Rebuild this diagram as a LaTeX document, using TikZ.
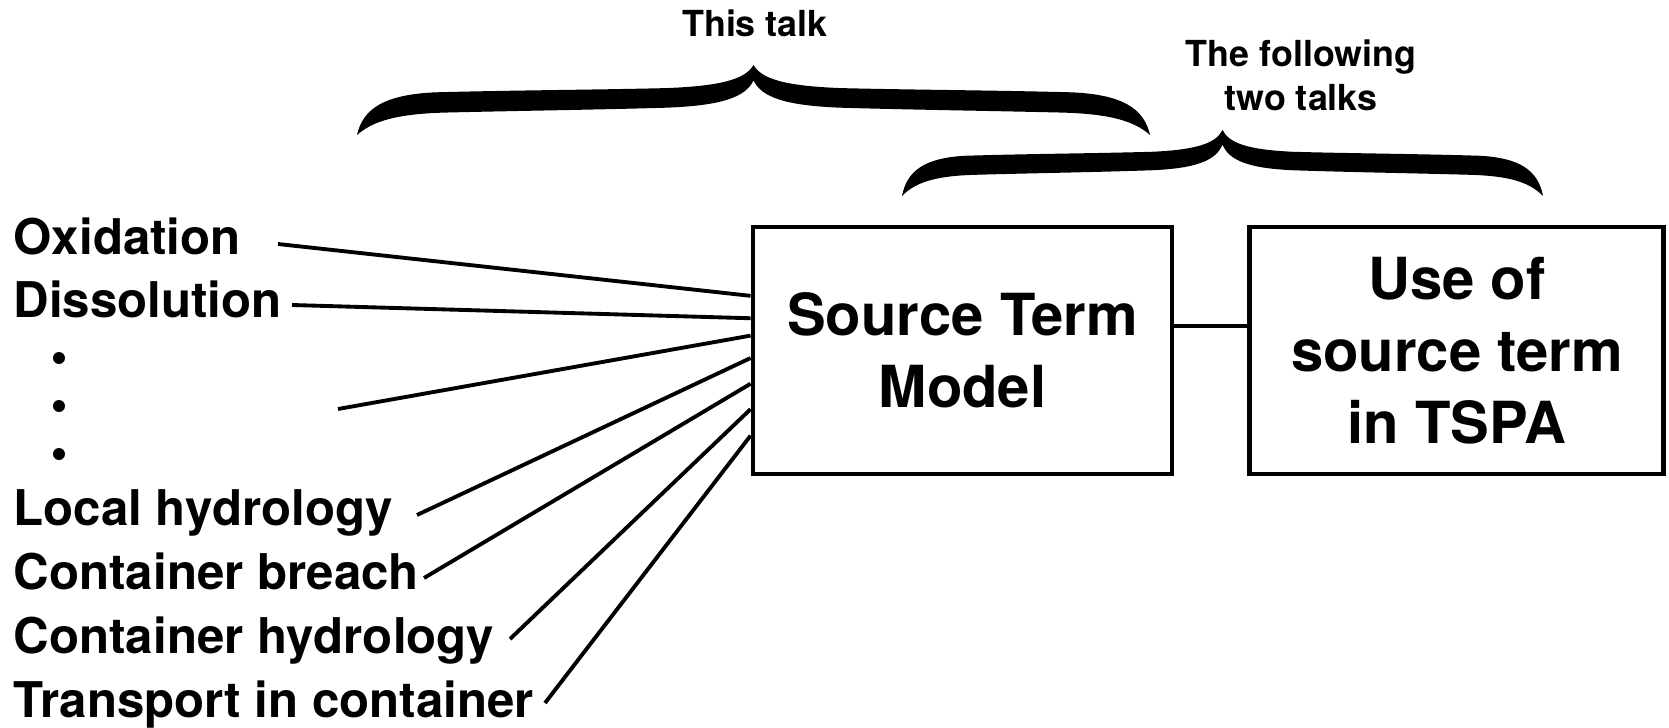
\documentclass[tikz,border=0pt]{standalone}
\usepackage{fontspec}
\setmainfont{TeX Gyre Heros}
\usetikzlibrary{calc,positioning}
% curly brace outline in unit coordinates: x from -1 to 1, y from 0 to 1
\def\braceshape{(-1,0) .. controls (-0.985,0.38) and (-0.93,0.58) .. (-0.8,0.61)
  .. controls (-0.6,0.64) and (-0.4,0.645) .. (-0.22,0.67)
  .. controls (-0.08,0.7) and (-0.02,0.8) .. (0,1)
  .. controls (0.02,0.8) and (0.08,0.7) .. (0.22,0.67)
  .. controls (0.4,0.645) and (0.6,0.64) .. (0.8,0.61)
  .. controls (0.93,0.58) and (0.985,0.38) .. (1,0)
  .. controls (0.96,0.2) and (0.9,0.3) .. (0.78,0.32)
  .. controls (0.6,0.345) and (0.4,0.36) .. (0.22,0.39)
  .. controls (0.08,0.42) and (0.02,0.54) .. (0,0.78)
  .. controls (-0.02,0.54) and (-0.08,0.42) .. (-0.22,0.39)
  .. controls (-0.4,0.36) and (-0.6,0.345) .. (-0.78,0.32)
  .. controls (-0.9,0.3) and (-0.96,0.2) .. (-1,0) -- cycle}
\def\talkbrace(#1,#2)(#3:#4){\fill[shift={(#1,#2)},xscale=#3,yscale=#4] \braceshape;}

\begin{document}
\begin{tikzpicture}[
    box/.style={draw, line width=1.4pt, minimum height=2.47cm, align=center,
      font=\fontsize{16.5}{20.5}\selectfont\bfseries},
    item/.style={anchor=base west, inner sep=0pt, font=\fontsize{14}{16}\selectfont\bfseries},
    talk/.style={anchor=base, inner sep=0pt, align=center, font=\fontsize{10.2}{12.8}\selectfont\bfseries},
    leader/.style={line width=1.1pt}
  ]
  \useasboundingbox (0,0) rectangle (16.69,7.27);

  %%%%% boxes %%%%%
  \node[box, minimum width=4.19cm] (src) at (9.625,3.765) {Source Term\\Model};
  \node[box, minimum width=4.14cm, right=0.73cm of src] (use) {Use of\\source term\\in TSPA};
  \coordinate (link) at (12,4.01);
  \draw[line width=0.9pt] (src.east |- link) -- (use.west |- link);

  %%%%% processes on the left %%%%%
  \node[item] (ox) at (0.13,4.73) {Oxidation};
  \node[item] (diss) at (0.13,4.10) {Dissolution};
  \foreach \y in {3.69,3.21,2.73}
    \fill (0.59,\y) circle (0.06);
  \node[item] (local) at (0.13,2.02) {Local hydrology};
  \node[item] (breach) at (0.13,1.38) {Container breach};
  \node[item] (conthyd) at (0.13,0.74) {Container hydrology};
  \node[item] (transp) at (0.13,0.10) {Transport in container};

  % leader lines into the model box
  \foreach \name/\x/\y/\t in {ox/2.78/4.83/0.283, diss/2.92/4.22/0.372, dots/3.38/3.18/0.441,
      local/4.17/2.12/0.530, breach/4.24/1.49/0.632, conthyd/5.10/0.88/0.733, transp/5.45/0.24/0.838}{
    \coordinate (\name-from) at (\x,\y);
    \coordinate (\name-to) at ($(src.north west)!\t!(src.south west)$);
    \draw[leader] (\name-from) -- (\name-to);
  }

  %%%%% braces %%%%%
  \talkbrace(7.535,5.92)(3.965:0.70)
  \talkbrace(12.225,5.31)(3.205:0.66)
  \node[talk] (this) at (7.55,6.90) {This talk};
  \node[talk] (next) at (13.01,6.16) {The following\\two talks};
\end{tikzpicture}
\end{document}
